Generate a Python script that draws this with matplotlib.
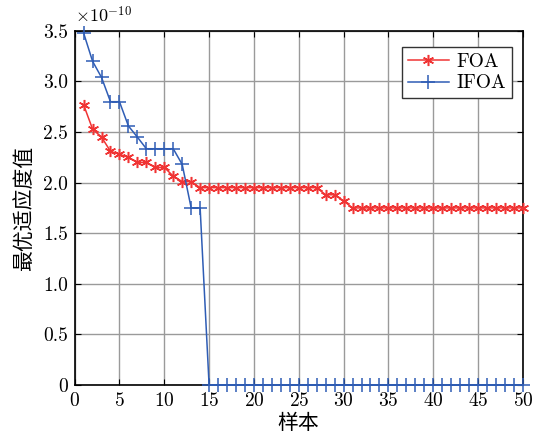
import numpy as np
import matplotlib.pyplot as plt
from matplotlib.ticker import FuncFormatter, MultipleLocator

plt.rcParams['font.family'] = ['cmr10', 'Noto Sans CJK SC']
plt.rcParams['mathtext.fontset'] = 'cm'
plt.rcParams['axes.formatter.use_mathtext'] = True

# best fitness per sample, in units of 1e-10
samples = np.arange(1, 51)
foa = [2.77, 2.53, 2.45, 2.31, 2.28, 2.25, 2.20, 2.20, 2.15, 2.15,
       2.065, 2.01, 2.01] + [1.95] * 14 + [1.88, 1.88, 1.82] + [1.75] * 20
ifoa = [3.48, 3.20, 3.04, 2.80, 2.80, 2.56, 2.45, 2.335, 2.335, 2.335,
        2.335, 2.18, 1.75, 1.75] + [0.0] * 36

fig = plt.figure(figsize=(5.33, 4.41), dpi=100)
ax = fig.add_axes([0.140, 0.127, 0.841, 0.803])

ax.plot(samples, foa, color='#f03434', lw=1.1, marker=(6, 2, 0), ms=8,
        mew=1.1, label='FOA', clip_on=False, zorder=3)
ax.plot(samples, ifoa, color='#2f5db5', lw=1.1, marker='+', ms=10,
        mew=1.1, label='IFOA', clip_on=False, zorder=4)

ax.set_xlim(0, 50)
ax.set_ylim(0, 3.5)
ax.xaxis.set_major_locator(MultipleLocator(5))
ax.yaxis.set_major_locator(MultipleLocator(0.5))
ax.yaxis.set_major_formatter(FuncFormatter(lambda v, p: '0' if v == 0 else f'{v:.1f}'))
ax.tick_params(direction='in', labelsize=14, top=True, right=True, length=4, pad=5)
ax.grid(True, color='#9a9a9a', lw=1.0)
for s in ax.spines.values():
    s.set_linewidth(1.2)

ax.text(0.0, 1.015, r'$\times10^{-10}$', transform=ax.transAxes, fontsize=13,
        ha='left', va='bottom')
ax.set_xlabel('样本', fontsize=15, labelpad=3)
ax.set_ylabel('最优适应度值', fontsize=15, labelpad=6)

leg = ax.legend(loc='upper right', fontsize=14, fancybox=False, framealpha=1,
                edgecolor='#333333', borderpad=0.3, handlelength=2.1,
                handletextpad=0.4, labelspacing=0.2, borderaxespad=0,
                bbox_to_anchor=(0.976, 0.955))
leg.get_frame().set_linewidth(1.0)

fig.savefig('out.png', dpi=100)
